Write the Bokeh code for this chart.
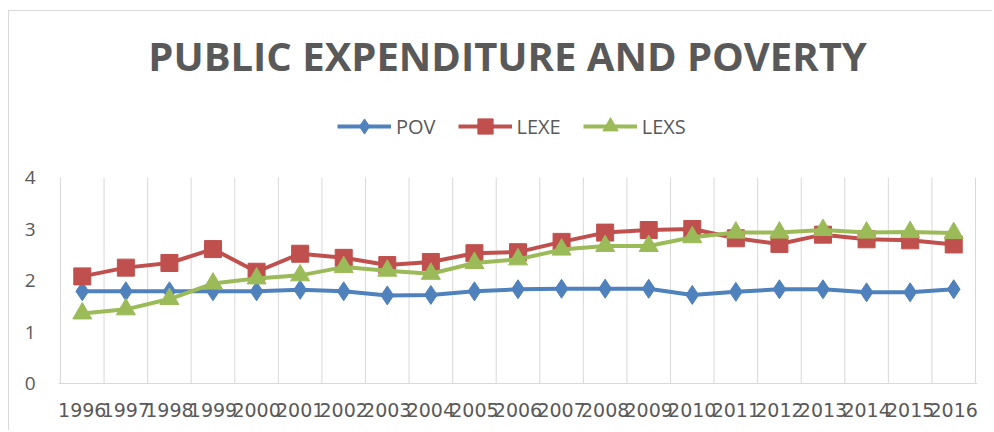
from bokeh.plotting import figure
from bokeh.models import FixedTicker, Legend, LegendItem, Range1d, Label
from bokeh.embed import file_html
from bokeh.resources import INLINE

years = list(range(1996, 2017))
pov = [1.79, 1.79, 1.79, 1.79, 1.79, 1.82, 1.79, 1.71, 1.72, 1.79, 1.83,
       1.84, 1.84, 1.84, 1.72, 1.78, 1.83, 1.83, 1.77, 1.77, 1.83]
lexe = [2.08, 2.25, 2.34, 2.61, 2.17, 2.52, 2.44, 2.30, 2.36, 2.53, 2.55,
        2.75, 2.93, 2.98, 3.00, 2.82, 2.71, 2.89, 2.80, 2.78, 2.70]
lexs = [1.36, 1.44, 1.64, 1.94, 2.04, 2.10, 2.26, 2.19, 2.13, 2.34, 2.41,
        2.60, 2.67, 2.67, 2.84, 2.93, 2.93, 2.98, 2.93, 2.94, 2.92]
y_ticks = [0, 1, 2, 3, 4]
title_text = "PUBLIC EXPENDITURE AND POVERTY"

TEXT = "#595959"
GRID = "#d9d9d9"

# value axis spans 0..4 in the lower part; the upper part of the frame hosts title and legend
y_top_value = y_ticks[-1]
px_per_unit = 51.5
frame_h = 383 - 30
pad = 0.046

p = figure(width=984, height=420, output_backend="svg", toolbar_location=None,
           x_range=Range1d(years[0] - 0.5 - pad, years[-1] + 0.5 + pad),
           y_range=Range1d(0, frame_h / px_per_unit),
           min_border_left=49, min_border_right=16,
           min_border_top=19, min_border_bottom=48)
p.styles = {"border-left": "1px solid #d9d9d9", "border-top": "1px solid #d9d9d9",
            "margin-left": "8px", "margin-top": "10px"}
p.outline_line_color = None
p.background_fill_color = "white"
p.border_fill_color = "white"

# grid: vertical lines between categories, only over the value range
p.xgrid.visible = False
p.ygrid.visible = False
bounds = [y - 0.5 for y in years] + [years[-1] + 0.5]
p.segment(x0=bounds, y0=[0] * len(bounds), x1=bounds, y1=[y_top_value] * len(bounds),
          line_color=GRID, line_width=1)

p.xaxis.ticker = FixedTicker(ticks=years)
p.xaxis.axis_line_color = GRID
p.xaxis.major_tick_line_color = None
p.xaxis.minor_tick_line_color = None
p.xaxis.major_label_text_color = TEXT
p.xaxis.major_label_text_font = "DejaVu Sans"
p.xaxis.major_label_text_font_size = "19px"
p.xaxis.major_label_standoff = 13

p.yaxis.ticker = FixedTicker(ticks=y_ticks)
p.yaxis.axis_line_color = None
p.yaxis.major_tick_line_color = None
p.yaxis.minor_tick_line_color = None
p.yaxis.major_label_text_color = TEXT
p.yaxis.major_label_text_font = "Open Sans"
p.yaxis.major_label_text_font_size = "19px"
p.yaxis.major_label_standoff = 17

series = [("POV", pov, "#4F81BD", "diamond", 19),
          ("LEXE", lexe, "#C0504D", "square", 17),
          ("LEXS", lexs, "#9BBB59", "triangle", 19)]
items = []
for name, vals, col, mk, sz in series:
    lr = p.line(years, vals, line_color=col, line_width=4)
    sr = p.scatter(years, vals, marker=mk, size=sz, fill_color=col, line_color=col)
    items.append(LegendItem(label=name, renderers=[lr, sr]))

legend = Legend(items=items, location=(279, 238), orientation="horizontal",
                padding=0, margin=0, spacing=22, label_standoff=5,
                glyph_width=54, glyph_height=38,
                label_text_font="Open Sans", label_text_font_size="20px",
                label_text_color=TEXT, border_line_alpha=0,
                background_fill_alpha=0)
p.add_layout(legend, "center")

p.add_layout(Label(x=2005.76, y=(383 - 55) / px_per_unit, text=title_text,
                   text_align="center", text_baseline="alphabetic",
                   text_font="Open Sans", text_font_style="bold",
                   text_font_size="40px", text_color=TEXT))

open("out.html", "w").write(file_html(p, INLINE))
